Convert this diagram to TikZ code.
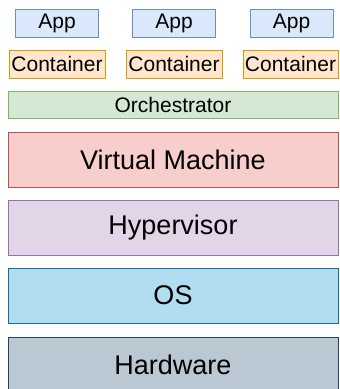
\documentclass[tikz,border=0pt]{standalone}
\usepackage{fontspec}
\setmainfont{Liberation Sans}
\definecolor{appF}{HTML}{DAE8FC}\definecolor{appD}{HTML}{6C8EBF}
\definecolor{conF}{HTML}{FFE6CC}\definecolor{conD}{HTML}{D79B00}
\definecolor{orcF}{HTML}{D5E8D4}\definecolor{orcD}{HTML}{82B366}
\definecolor{vmF}{HTML}{F8CECC}\definecolor{vmD}{HTML}{B85450}
\definecolor{hypF}{HTML}{E1D5E7}\definecolor{hypD}{HTML}{9673A6}
\definecolor{osF}{HTML}{B1DDF0}\definecolor{osD}{HTML}{10739E}
\definecolor{hwF}{HTML}{BAC8D3}\definecolor{hwD}{HTML}{23445D}
\begin{document}
\begin{tikzpicture}[x=1pt,y=-1pt,
  layer/.style={draw=#1D,fill=#1F,line width=1pt,inner sep=0pt,rectangle},
  small/.style={font=\fontsize{21}{24}\selectfont,minimum height=28pt},
  big/.style={font=\fontsize{27}{31}\selectfont,minimum height=55pt,minimum width=330pt},
  appbox/.style={layer=app,small,minimum width=83pt},
  conbox/.style={layer=con,small,minimum width=96pt},
]
\useasboundingbox (0,0) rectangle (340,389);
\node[appbox] (a1) at (57,23) {App};
\node[appbox] (a2) at (174,23) {App};
\node[appbox] (a3) at (291.5,23) {App};
\node[conbox] (c1) at (57,64) {Container};
\node[conbox] (c2) at (174,64) {Container};
\node[conbox,minimum width=95pt] (c3) at (290.5,64) {Container};
\node[layer=orc,small,minimum height=27pt,minimum width=330pt] (orc) at (173,104.5) {Orchestrator};
\node[layer=vm,big] (vm) at (173,159.5) {Virtual Machine};
\node[layer=hyp,big] (hyp) at (173,227.5) {Hypervisor};
\node[layer=os,big] (os) at (173,295.5) {OS};
\node[layer=hw,big] (hw) at (173,364.5) {Hardware};
\end{tikzpicture}
\end{document}
